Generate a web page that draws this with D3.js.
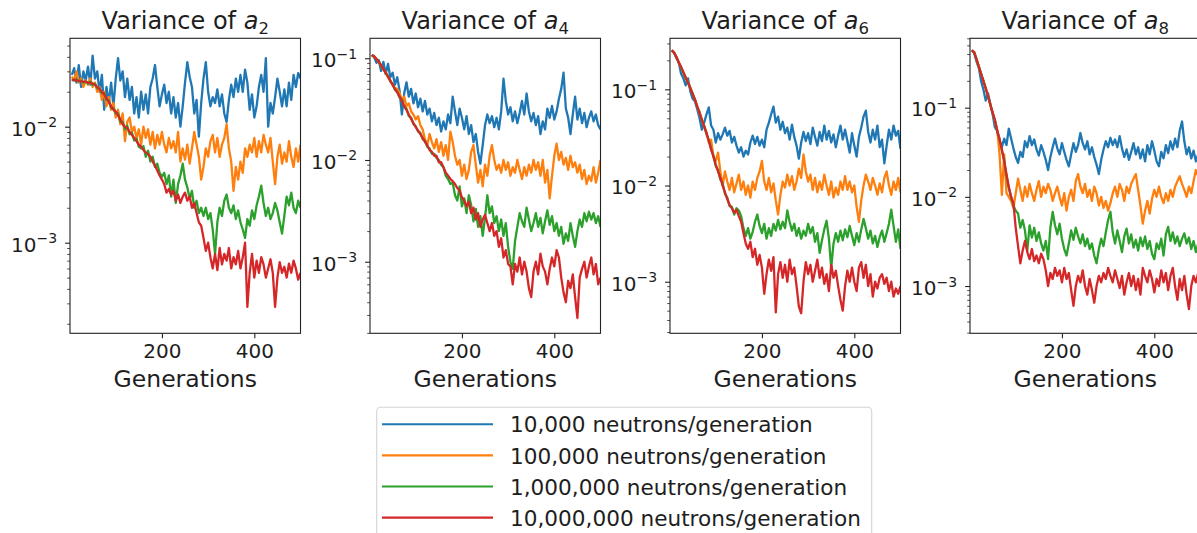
<!DOCTYPE html>
<html>
<head>
<meta charset="utf-8">
<script src="https://cdn.jsdelivr.net/npm/d3@7/dist/d3.min.js"></script>
<style>
html,body{margin:0;padding:0;background:#fff;}
svg{display:block;font-family:"DejaVu Sans",sans-serif;}
</style>
</head>
<body>
<svg id="chart" width="1197" height="533"></svg>
<script>
// ---------- data ----------
const generations = d3.range(5, 501, 5); // 5,10,...,500
const seriesNames = ["10,000 neutrons/generation", "100,000 neutrons/generation", "1,000,000 neutrons/generation", "10,000,000 neutrons/generation"];
const seriesColors = ["#1f77b4", "#ff7f0e", "#2ca02c", "#d62728"];
const coefficients = ["2", "4", "6", "8"];
const xTicks = [200, 400];
const xLimits = [1, 500];
const yLimits = [[1.656e-4, 0.0578], [1.98e-4, 0.157], [2.91e-4, 0.339], [2.95e-4, 0.600]];

// Variance of a2
const a2_n1e4 = [2.8e-2,3.2e-2,2.4e-2,3.4e-2,2.2e-2,3.0e-2,2.5e-2,3.3e-2,2.3e-2,4.1e-2,2.6e-2,3.0e-2,2.0e-2,2.8e-2,1.4e-2,2.2e-2,1.6e-2,2.4e-2,1.5e-2,2.6e-2,
 3.9e-2,2.5e-2,3.0e-2,1.8e-2,2.6e-2,1.7e-2,2.2e-2,1.3e-2,1.8e-2,1.2e-2,2.0e-2,1.4e-2,1.9e-2,1.3e-2,2.2e-2,2.6e-2,3.4e-2,2.2e-2,1.5e-2,1.9e-2,
 2.3e-2,1.6e-2,2.0e-2,1.3e-2,1.8e-2,1.2e-2,1.6e-2,1.0e-2,1.5e-2,2.4e-2,3.6e-2,2.7e-2,2.2e-2,1.3e-2,1.7e-2,0.82e-2,1.6e-2,2.6e-2,3.6e-2,2.0e-2,
 1.5e-2,1.8e-2,1.6e-2,2.1e-2,1.5e-2,1.9e-2,1.3e-2,1.1e-2,1.7e-2,2.3e-2,1.8e-2,2.6e-2,2.0e-2,2.8e-2,2.0e-2,3.1e-2,2.4e-2,1.4e-2,1.9e-2,1.2e-2,
 1.5e-2,2.2e-2,2.8e-2,2.0e-2,3.9e-2,1.0e-2,1.6e-2,1.3e-2,1.8e-2,2.6e-2,2.0e-2,1.5e-2,2.1e-2,1.5e-2,2.4e-2,1.7e-2,2.8e-2,2.2e-2,2.9e-2,2.6e-2];
const a2_n1e5 = [27e-3,25e-3,30e-3,24e-3,26e-3,22e-3,25e-3,23e-3,26e-3,22e-3,24e-3,20e-3,22e-3,17e-3,20e-3,15e-3,18e-3,14e-3,16e-3,12e-3,
 14e-3,10.5e-3,13e-3,7.5e-3,11e-3,12e-3,9e-3,10e-3,8e-3,9.5e-3,7e-3,10e-3,8e-3,9.5e-3,7e-3,9e-3,6.5e-3,8.5e-3,7e-3,9e-3,
 7e-3,6e-3,8e-3,6.5e-3,7.5e-3,6e-3,9e-3,5e-3,6.5e-3,5.2e-3,7e-3,4.8e-3,6.5e-3,9e-3,7e-3,5.5e-3,3.5e-3,4.5e-3,6.5e-3,5.5e-3,
 7.5e-3,8.5e-3,6e-3,8e-3,5.5e-3,7e-3,8e-3,10.5e-3,6.5e-3,5e-3,2.8e-3,4.5e-3,3.5e-3,5e-3,4e-3,6.5e-3,5.5e-3,7e-3,6e-3,8e-3,
 5.5e-3,7.5e-3,6e-3,8.5e-3,7e-3,6e-3,8e-3,5e-3,3.2e-3,5.5e-3,7e-3,4.8e-3,6e-3,5e-3,7.5e-3,5.5e-3,4.5e-3,6.5e-3,5e-3,7e-3];
const a2_n1e6 = [25.5e-3,25e-3,25.5e-3,24.5e-3,25e-3,24e-3,24.5e-3,23.5e-3,24.5e-3,23e-3,23.5e-3,21.5e-3,21.5e-3,19.5e-3,19.5e-3,17e-3,17e-3,14.5e-3,14.5e-3,13e-3,
 13e-3,11e-3,11e-3,9.5e-3,10.2e-3,8.6e-3,8.9e-3,7.6e-3,7.9e-3,6.7e-3,6.5e-3,6.8e-3,5.5e-3,6.2e-3,5.0e-3,5.5e-3,4.5e-3,4.8e-3,4.0e-3,3.7e-3,
 4.0e-3,3.2e-3,3.8e-3,2.5e-3,3.5e-3,2.2e-3,3.2e-3,3.8e-3,4.8e-3,3.5e-3,3.0e-3,2.4e-3,2.8e-3,2.0e-3,2.3e-3,1.8e-3,2.0e-3,1.7e-3,2.0e-3,1.6e-3,
 1.8e-3,1.3e-3,0.8e-3,1.5e-3,2.0e-3,1.7e-3,2.3e-3,2.6e-3,2.0e-3,1.8e-3,2.1e-3,1.6e-3,1.9e-3,1.5e-3,1.3e-3,1.1e-3,1.6e-3,1.4e-3,1.9e-3,1.6e-3,
 2.1e-3,2.5e-3,3.1e-3,2.2e-3,1.7e-3,2.0e-3,1.6e-3,1.8e-3,2.2e-3,1.9e-3,1.5e-3,1.2e-3,1.7e-3,2.5e-3,2.1e-3,2.7e-3,2.0e-3,1.8e-3,2.3e-3,2.0e-3];
const a2_n1e7 = [25e-3,25.5e-3,25e-3,25e-3,24.5e-3,24.5e-3,24.5e-3,24e-3,24e-3,23.5e-3,23e-3,22e-3,21e-3,20e-3,19e-3,17.5e-3,16.5e-3,15e-3,14e-3,13.5e-3,
 12.5e-3,11.5e-3,10.5e-3,10e-3,9.8e-3,9e-3,8.5e-3,8e-3,7.5e-3,7e-3,6.7e-3,6.3e-3,6e-3,5.8e-3,5.5e-3,5e-3,4.6e-3,4.2e-3,3.8e-3,3.5e-3,
 3.2e-3,2.7e-3,2.9e-3,2.6e-3,2.8e-3,2.3e-3,2.6e-3,2.2e-3,2.5e-3,2.7e-3,2.3e-3,2.5e-3,2.0e-3,2.2e-3,1.8e-3,1.5e-3,1.4e-3,1.1e-3,0.85e-3,1.0e-3,
 0.75e-3,0.6e-3,0.8e-3,0.58e-3,0.9e-3,0.65e-3,0.8e-3,0.7e-3,0.9e-3,0.6e-3,0.75e-3,0.65e-3,0.85e-3,0.6e-3,0.75e-3,1.0e-3,0.28e-3,0.55e-3,0.8e-3,0.5e-3,
 0.7e-3,0.55e-3,0.75e-3,0.65e-3,0.5e-3,0.6e-3,0.72e-3,0.55e-3,0.28e-3,0.5e-3,0.68e-3,0.55e-3,0.62e-3,0.5e-3,0.66e-3,0.55e-3,0.7e-3,0.6e-3,0.48e-3,0.55e-3];

// Variance of a4
const a4_n1e4 = [10.8e-2,10.2e-2,9.0e-2,9.6e-2,7.5e-2,9.2e-2,7.0e-2,8.8e-2,6.5e-2,7.2e-2,5.5e-2,6.5e-2,4.8e-2,2.8e-2,4.5e-2,5.8e-2,4.2e-2,5.0e-2,3.6e-2,4.5e-2,
 3.3e-2,4.0e-2,3.0e-2,3.8e-2,2.8e-2,3.2e-2,2.4e-2,2.9e-2,2.2e-2,2.6e-2,1.9e-2,2.4e-2,2.0e-2,2.8e-2,2.3e-2,4.2e-2,3.0e-2,2.2e-2,3.2e-2,2.6e-2,
 2.0e-2,2.7e-2,1.8e-2,2.2e-2,1.5e-2,1.8e-2,1.2e-2,0.92e-2,1.4e-2,2.2e-2,2.8e-2,2.3e-2,2.7e-2,2.1e-2,2.6e-2,2.0e-2,3.0e-2,6.3e-2,3.8e-2,2.8e-2,
 3.3e-2,2.4e-2,3.0e-2,2.3e-2,2.9e-2,3.8e-2,2.8e-2,4.5e-2,3.0e-2,2.4e-2,2.9e-2,2.2e-2,2.7e-2,1.8e-2,2.4e-2,2.0e-2,3.2e-2,2.6e-2,3.4e-2,2.5e-2,
 3.0e-2,4.0e-2,5.0e-2,7.2e-2,3.2e-2,2.6e-2,1.8e-2,2.8e-2,4.2e-2,2.5e-2,3.2e-2,2.3e-2,2.9e-2,2.1e-2,2.6e-2,3.0e-2,2.4e-2,2.8e-2,2.2e-2,2.0e-2];
const a4_n1e5 = [106e-3,103e-3,99e-3,91e-3,86e-3,77e-3,73e-3,65e-3,61e-3,54e-3,51e-3,50e-3,46e-3,38e-3,42e-3,34e-3,36e-3,30e-3,28e-3,25e-3,
 27e-3,22e-3,20e-3,16e-3,14e-3,18e-3,15e-3,13e-3,16e-3,12e-3,15e-3,11e-3,14e-3,10e-3,19e-3,15e-3,11e-3,9e-3,10e-3,7e-3,
 9e-3,6.5e-3,8e-3,12e-3,14e-3,9e-3,6e-3,8e-3,5.5e-3,9e-3,7e-3,11e-3,14e-3,10e-3,8e-3,9e-3,7.5e-3,10e-3,8e-3,9.5e-3,
 7e-3,8.5e-3,7.5e-3,10e-3,8e-3,6.5e-3,8.5e-3,7e-3,9e-3,7.5e-3,10e-3,8e-3,9.5e-3,7e-3,10e-3,6e-3,8e-3,4.2e-3,7e-3,11e-3,
 14.5e-3,10e-3,12e-3,9e-3,10.5e-3,8e-3,11e-3,8.5e-3,9.5e-3,7.5e-3,9e-3,6.5e-3,8e-3,5.8e-3,7e-3,6.2e-3,8.5e-3,6e-3,7.5e-3,10e-3];
const a4_n1e6 = [107e-3,105e-3,97e-3,93e-3,84e-3,79e-3,71e-3,67e-3,59e-3,56e-3,49e-3,47e-3,41e-3,39e-3,33e-3,32e-3,27e-3,26e-3,22.5e-3,21.5e-3,
 19e-3,18.5e-3,16e-3,15.5e-3,13.5e-3,13e-3,11.5e-3,11.5e-3,10.5e-3,10e-3,9e-3,8.5e-3,7.0e-3,6.5e-3,5.8e-3,6.0e-3,4.5e-3,4.0e-3,5.5e-3,3.5e-3,
 4.2e-3,3.0e-3,4.5e-3,3.6e-3,2.5e-3,3.3e-3,2.2e-3,2.8e-3,1.8e-3,2.7e-3,4.5e-3,3.0e-3,3.5e-3,2.4e-3,2.8e-3,2.0e-3,2.6e-3,1.8e-3,2.4e-3,1.4e-3,
 1.0e-3,0.85e-3,1.6e-3,2.2e-3,3.0e-3,2.5e-3,2.2e-3,3.4e-3,2.6e-3,2.0e-3,2.4e-3,3.0e-3,2.2e-3,2.7e-3,1.9e-3,2.5e-3,3.2e-3,2.3e-3,2.8e-3,2.0e-3,
 2.4e-3,1.8e-3,2.2e-3,1.5e-3,1.9e-3,1.6e-3,2.4e-3,1.8e-3,1.4e-3,2.0e-3,2.6e-3,2.2e-3,3.0e-3,2.5e-3,3.1e-3,2.6e-3,3.0e-3,2.4e-3,2.8e-3,2.2e-3];
const a4_n1e7 = [108e-3,104e-3,98e-3,92e-3,85e-3,78e-3,72e-3,66e-3,60e-3,55e-3,50e-3,46e-3,42e-3,38e-3,34e-3,31e-3,28e-3,25.5e-3,23e-3,21e-3,
 19.5e-3,18e-3,16.5e-3,15e-3,14e-3,12.5e-3,12e-3,11e-3,11e-3,9.5e-3,9.5e-3,8.5e-3,7.5e-3,7e-3,6.5e-3,6.2e-3,5.8e-3,5.3e-3,5.0e-3,4.3e-3,
 4.0e-3,3.5e-3,3.9e-3,3.0e-3,3.4e-3,2.6e-3,3.0e-3,2.2e-3,2.6e-3,2.9e-3,2.4e-3,2.0e-3,2.4e-3,1.8e-3,2.0e-3,1.4e-3,1.7e-3,1.1e-3,1.3e-3,0.95e-3,
 0.9e-3,0.6e-3,0.95e-3,0.8e-3,1.1e-3,0.75e-3,1.0e-3,0.8e-3,0.55e-3,0.45e-3,0.8e-3,1.0e-3,0.75e-3,1.2e-3,0.9e-3,0.8e-3,0.6e-3,0.85e-3,1.1e-3,0.9e-3,
 1.3e-3,1.1e-3,0.7e-3,0.5e-3,0.4e-3,0.65e-3,0.55e-3,0.75e-3,0.45e-3,0.28e-3,0.7e-3,0.85e-3,1.0e-3,0.7e-3,0.9e-3,1.1e-3,0.75e-3,0.95e-3,0.6e-3,0.7e-3];

// Variance of a6
const a6_n1e4 = [25.5e-2,24e-2,21e-2,19e-2,14.5e-2,13e-2,11e-2,13e-2,9.5e-2,8e-2,7.5e-2,6.2e-2,5.0e-2,3.8e-2,4.5e-2,5.5e-2,6.5e-2,4.2e-2,3.8e-2,2.8e-2,
 3.5e-2,3.0e-2,3.4e-2,4.0e-2,3.3e-2,3.7e-2,2.8e-2,3.2e-2,2.6e-2,2.2e-2,2.5e-2,2.0e-2,2.3e-2,2.1e-2,2.8e-2,3.3e-2,2.7e-2,3.2e-2,2.6e-2,3.0e-2,
 2.5e-2,3.8e-2,4.5e-2,5.5e-2,6.6e-2,4.5e-2,5.2e-2,3.8e-2,4.6e-2,3.5e-2,4.0e-2,3.0e-2,4.3e-2,3.2e-2,2.6e-2,1.9e-2,2.8e-2,3.6e-2,2.9e-2,3.5e-2,
 2.7e-2,4.0e-2,3.2e-2,2.6e-2,3.6e-2,2.9e-2,4.2e-2,3.0e-2,3.7e-2,2.8e-2,3.4e-2,2.5e-2,3.3e-2,4.2e-2,3.0e-2,3.8e-2,2.9e-2,2.2e-2,3.5e-2,2.6e-2,
 2.0e-2,3.2e-2,4.0e-2,5.2e-2,6.0e-2,3.6e-2,2.8e-2,3.8e-2,3.0e-2,4.2e-2,2.5e-2,3.0e-2,1.7e-2,2.6e-2,3.8e-2,3.0e-2,4.2e-2,3.3e-2,3.7e-2,2.4e-2];
const a6_n1e5 = [256e-3,239e-3,216e-3,191e-3,169e-3,151e-3,131e-3,119e-3,102e-3,91e-3,77e-3,67e-3,56e-3,49e-3,41e-3,36e-3,28e-3,30e-3,20e-3,18e-3,
 22e-3,14e-3,10e-3,14e-3,11e-3,9e-3,12e-3,8.5e-3,10.5e-3,13e-3,9e-3,11e-3,8e-3,10e-3,7.5e-3,11e-3,9e-3,12e-3,14e-3,18e-3,
 11e-3,9e-3,12e-3,8.5e-3,10.5e-3,7e-3,5e-3,8e-3,11e-3,9.5e-3,13e-3,10e-3,12.5e-3,9e-3,11e-3,15e-3,12e-3,21e-3,14e-3,11e-3,
 13e-3,9e-3,12e-3,8.5e-3,11e-3,9e-3,13e-3,10e-3,8e-3,11e-3,7.5e-3,9.5e-3,8e-3,11e-3,9e-3,12.5e-3,9e-3,11e-3,8.5e-3,10e-3,
 6e-3,4.2e-3,7e-3,10e-3,13e-3,11e-3,9e-3,12e-3,10e-3,8e-3,10.5e-3,8.5e-3,12e-3,14e-3,10e-3,8e-3,11e-3,9e-3,12e-3,8.5e-3];
const a6_n1e6 = [252e-3,238e-3,217e-3,188e-3,171e-3,148e-3,133e-3,116e-3,104e-3,89e-3,79e-3,65e-3,58e-3,47e-3,42e-3,34e-3,30e-3,23.5e-3,20.5e-3,16e-3,
 14.5e-3,11.5e-3,10.5e-3,8.2e-3,7.5e-3,6.1e-3,6.0e-3,5.0e-3,5.8e-3,5.5e-3,4.8e-3,3.6e-3,3.0e-3,3.6e-3,2.8e-3,3.3e-3,4.2e-3,5.0e-3,3.8e-3,3.2e-3,
 4.0e-3,2.8e-3,3.6e-3,3.0e-3,4.0e-3,3.4e-3,4.4e-3,3.5e-3,4.2e-3,3.6e-3,5.5e-3,4.2e-3,3.4e-3,4.0e-3,3.0e-3,3.6e-3,2.8e-3,3.4e-3,3.0e-3,4.0e-3,
 3.2e-3,3.7e-3,2.6e-3,3.2e-3,2.0e-3,2.7e-3,3.5e-3,4.3e-3,2.8e-3,1.4e-3,2.5e-3,3.2e-3,2.6e-3,3.4e-3,2.7e-3,3.5e-3,2.9e-3,3.8e-3,3.0e-3,2.4e-3,
 3.2e-3,2.6e-3,3.5e-3,4.5e-3,3.6e-3,2.8e-3,3.4e-3,2.5e-3,3.0e-3,2.3e-3,2.9e-3,3.4e-3,2.6e-3,3.2e-3,4.0e-3,5.6e-3,3.8e-3,2.6e-3,3.5e-3,2.2e-3];
const a6_n1e7 = [255e-3,240e-3,215e-3,190e-3,170e-3,150e-3,132e-3,118e-3,103e-3,90e-3,78e-3,66e-3,57e-3,48e-3,41e-3,35e-3,29e-3,24e-3,20e-3,16.5e-3,
 14e-3,12e-3,10e-3,8.5e-3,7.2e-3,6.3e-3,5.8e-3,5.2e-3,5.6e-3,4.8e-3,4.2e-3,3.2e-3,2.5e-3,2.2e-3,2.6e-3,1.8e-3,2.2e-3,1.5e-3,1.9e-3,1.4e-3,
 0.75e-3,1.2e-3,1.7e-3,1.3e-3,1.8e-3,0.48e-3,1.2e-3,1.6e-3,1.1e-3,1.5e-3,1.0e-3,1.7e-3,1.2e-3,1.4e-3,0.9e-3,0.55e-3,0.47e-3,1.0e-3,1.6e-3,1.2e-3,
 1.5e-3,1.0e-3,1.3e-3,1.7e-3,1.1e-3,1.4e-3,0.95e-3,1.2e-3,0.8e-3,1.5e-3,1.1e-3,1.3e-3,0.9e-3,0.65e-3,0.5e-3,0.9e-3,1.3e-3,1.0e-3,1.4e-3,1.0e-3,
 0.8e-3,1.4e-3,1.6e-3,1.1e-3,1.5e-3,0.9e-3,1.2e-3,0.7e-3,1.0e-3,0.85e-3,1.1e-3,1.2e-3,0.95e-3,1.1e-3,0.8e-3,1.0e-3,0.7e-3,0.85e-3,0.75e-3,0.9e-3];

// Variance of a8
const a8_n1e4 = [44e-2,41e-2,33e-2,28e-2,20e-2,16e-2,12e-2,14.5e-2,11e-2,8.5e-2,6e-2,5.5e-2,4.2e-2,3.6e-2,4.5e-2,3.8e-2,5.8e-2,4.5e-2,3.5e-2,2.8e-2,
 2.4e-2,3.2e-2,2.8e-2,4.2e-2,3.6e-2,4.8e-2,3.8e-2,4.4e-2,3.4e-2,2.9e-2,3.8e-2,3.2e-2,2.6e-2,2.0e-2,2.8e-2,3.6e-2,4.5e-2,3.5e-2,3.0e-2,4.0e-2,
 3.2e-2,2.6e-2,2.2e-2,3.0e-2,4.0e-2,3.2e-2,3.8e-2,5.2e-2,4.0e-2,3.4e-2,4.2e-2,3.0e-2,3.6e-2,2.8e-2,2.3e-2,1.8e-2,2.6e-2,3.4e-2,4.2e-2,3.6e-2,
 4.6e-2,3.8e-2,4.4e-2,3.6e-2,4.8e-2,3.5e-2,2.8e-2,3.4e-2,2.6e-2,3.2e-2,4.0e-2,3.0e-2,3.6e-2,2.7e-2,3.4e-2,2.5e-2,3.8e-2,3.0e-2,4.2e-2,3.3e-2,
 2.5e-2,2.2e-2,3.2e-2,2.7e-2,3.8e-2,3.1e-2,4.2e-2,3.4e-2,4.5e-2,3.6e-2,5.5e-2,7.0e-2,4.2e-2,3.0e-2,3.6e-2,2.7e-2,3.3e-2,2.5e-2,3.0e-2,2.8e-2];
const a8_n1e5 = [442e-3,419e-3,349e-3,291e-3,238e-3,202e-3,163e-3,136e-3,107e-3,89e-3,71e-3,56e-3,30e-3,10.5e-3,30e-3,11e-3,10e-3,9e-3,7.5e-3,11e-3,
 16e-3,12e-3,9e-3,13e-3,10e-3,14e-3,11e-3,9e-3,12e-3,15e-3,10e-3,13e-3,11e-3,14e-3,12e-3,9e-3,11e-3,13e-3,10e-3,8e-3,
 11e-3,7e-3,10e-3,12e-3,9e-3,15e-3,18e-3,13e-3,11e-3,14e-3,10e-3,12e-3,9e-3,13e-3,11e-3,8e-3,10e-3,7.5e-3,9e-3,7e-3,
 8.5e-3,11e-3,13e-3,10e-3,14e-3,12e-3,9e-3,13e-3,11e-3,14e-3,16e-3,18e-3,12e-3,8e-3,5e-3,7e-3,9e-3,6.5e-3,9.5e-3,12e-3,
 10e-3,13e-3,10e-3,8.5e-3,11e-3,9e-3,12e-3,10e-3,13e-3,15e-3,17e-3,14e-3,12e-3,10e-3,13e-3,11e-3,15e-3,20e-3,17e-3,14e-3];
const a8_n1e6 = [438e-3,418e-3,352e-3,288e-3,242e-3,198e-3,167e-3,133e-3,110e-3,86e-3,73e-3,54e-3,45e-3,33e-3,26e-3,17e-3,12.5e-3,10e-3,8e-3,7e-3,
 6.5e-3,4.5e-3,5.5e-3,4.2e-3,2.5e-3,4.8e-3,3.5e-3,4.5e-3,3.2e-3,4.0e-3,3.0e-3,2.5e-3,3.2e-3,2.0e-3,4.5e-3,6.8e-3,4.8e-3,3.8e-3,5.0e-3,3.4e-3,
 2.6e-3,2.2e-3,3.0e-3,4.2e-3,3.3e-3,4.5e-3,3.6e-3,3.0e-3,3.8e-3,2.8e-3,3.4e-3,2.6e-3,3.0e-3,2.2e-3,1.8e-3,2.6e-3,3.4e-3,2.8e-3,4.0e-3,5.5e-3,
 6.8e-3,4.0e-3,3.0e-3,4.2e-3,3.2e-3,2.4e-3,3.6e-3,4.4e-3,3.0e-3,3.8e-3,2.7e-3,3.3e-3,2.5e-3,3.5e-3,2.8e-3,3.6e-3,2.6e-3,3.2e-3,2.3e-3,2.0e-3,
 3.0e-3,2.6e-3,3.4e-3,2.2e-3,3.8e-3,4.6e-3,3.2e-3,4.0e-3,3.0e-3,3.6e-3,2.8e-3,3.4e-3,3.9e-3,3.0e-3,3.5e-3,2.6e-3,3.2e-3,2.4e-3,3.0e-3,3.3e-3];
const a8_n1e7 = [440e-3,420e-3,350e-3,290e-3,240e-3,200e-3,165e-3,135e-3,108e-3,88e-3,72e-3,55e-3,44e-3,34e-3,25e-3,18e-3,13e-3,10e-3,8.5e-3,4.5e-3,
 2.8e-3,1.8e-3,2.5e-3,3.2e-3,2.4e-3,2.0e-3,2.6e-3,1.9e-3,2.2e-3,1.8e-3,2.3e-3,2.0e-3,1.5e-3,1.0e-3,1.4e-3,1.2e-3,1.6e-3,1.3e-3,1.5e-3,1.1e-3,
 1.6e-3,1.2e-3,1.4e-3,0.9e-3,0.6e-3,1.0e-3,1.3e-3,1.1e-3,1.5e-3,1.0e-3,0.8e-3,1.2e-3,0.9e-3,0.65e-3,1.0e-3,1.3e-3,1.1e-3,1.4e-3,1.2e-3,1.6e-3,
 1.3e-3,1.1e-3,1.5e-3,1.2e-3,0.95e-3,1.3e-3,0.8e-3,1.1e-3,1.4e-3,1.0e-3,1.3e-3,0.9e-3,1.2e-3,0.8e-3,1.6e-3,1.3e-3,1.1e-3,1.5e-3,1.2e-3,0.85e-3,
 1.2e-3,1.0e-3,1.5e-3,1.1e-3,1.4e-3,0.9e-3,1.3e-3,1.6e-3,1.0e-3,0.7e-3,1.2e-3,0.9e-3,1.3e-3,0.8e-3,0.55e-3,1.0e-3,1.3e-3,1.1e-3,1.4e-3,1.2e-3];

// ---------- layout ----------
const panels = [
  {coef: coefficients[0], series: [a2_n1e4, a2_n1e5, a2_n1e6, a2_n1e7], ylim: yLimits[0]},
  {coef: coefficients[1], series: [a4_n1e4, a4_n1e5, a4_n1e6, a4_n1e7], ylim: yLimits[1]},
  {coef: coefficients[2], series: [a6_n1e4, a6_n1e5, a6_n1e6, a6_n1e7], ylim: yLimits[2]},
  {coef: coefficients[3], series: [a8_n1e4, a8_n1e5, a8_n1e6, a8_n1e7], ylim: yLimits[3]}
];
const panelLeft = [70, 370, 670, 970];
const panelW = 230.5, plotTop = 38.3, plotBottom = 333.3;
const textColor = "#1e1e1e";
const font = "DejaVu Sans";

const svg = d3.select("#chart");
svg.append("rect").attr("width", 1197).attr("height", 533).attr("fill", "#fff");

panels.forEach((p, i) => {
  const g = svg.append("g").attr("transform", `translate(${panelLeft[i]},0)`);
  const x = d3.scaleLinear().domain(xLimits).range([0, panelW]);
  const y = d3.scaleLog().domain(p.ylim).range([plotBottom, plotTop]);

  const clipId = "clip" + i;
  g.append("clipPath").attr("id", clipId).append("rect")
    .attr("x", 0).attr("y", plotTop).attr("width", panelW).attr("height", plotBottom - plotTop);

  const line = d3.line()
    .defined(d => d != null && d > 0)
    .x((d, j) => x(generations[j]))
    .y(d => y(d));

  const lg = g.append("g").attr("clip-path", `url(#${clipId})`);
  p.series.forEach((s, k) => {
    lg.append("path").datum(s)
      .attr("d", line)
      .attr("fill", "none")
      .attr("stroke", seriesColors[k])
      .attr("stroke-width", 2.3)
      .attr("stroke-linejoin", "round");
  });

  // y axis: major & minor ticks
  const allTicks = y.ticks();
  const isMajor = v => Math.abs(Math.log10(v) - Math.round(Math.log10(v))) < 1e-9;
  const majors = allTicks.filter(isMajor);
  const minors = allTicks.filter(v => !isMajor(v));

  const yMinor = g.append("g").call(d3.axisLeft(y).tickValues(minors).tickSize(2.8).tickFormat(() => ""));
  yMinor.select(".domain").remove();
  yMinor.selectAll("line").attr("stroke", "#222").attr("stroke-width", 0.8);

  const yMajor = g.append("g").call(d3.axisLeft(y).tickValues(majors).tickSize(4.9).tickPadding(8).tickFormat(() => ""));
  yMajor.select(".domain").remove();
  yMajor.selectAll("line").attr("stroke", "#222").attr("stroke-width", 1.1);
  yMajor.selectAll("text").each(function(d) {
    const t = d3.select(this);
    t.attr("dy", 8.3).attr("font-family", font).attr("font-size", 20).attr("fill", textColor);
    t.append("tspan").text("10");
    t.append("tspan").attr("dy", -8.3).attr("font-size", 14).text("\u2212" + Math.abs(Math.round(Math.log10(d))));
  });

  // x axis
  const xa = g.append("g").attr("transform", `translate(0,${plotBottom})`)
    .call(d3.axisBottom(x).tickValues(xTicks).tickSize(4.9).tickPadding(5.6).tickFormat(d3.format("d")));
  xa.select(".domain").remove();
  xa.selectAll("line").attr("stroke", "#222").attr("stroke-width", 1.1);
  xa.selectAll("text").attr("font-family", font).attr("font-size", 20).attr("fill", textColor);

  // frame
  g.append("rect").attr("x", 0).attr("y", plotTop).attr("width", panelW).attr("height", plotBottom - plotTop)
    .attr("fill", "none").attr("stroke", "#222").attr("stroke-width", 1.1);

  // title
  const title = g.append("text").attr("x", panelW / 2).attr("y", 29)
    .attr("text-anchor", "middle").attr("font-family", font).attr("font-size", 24).attr("fill", textColor);
  title.append("tspan").text("Variance of ");
  title.append("tspan").attr("font-style", "italic").text("a");
  title.append("tspan").attr("font-size", 16.5).attr("dy", 5).text(p.coef);

  // x label
  g.append("text").attr("x", panelW / 2).attr("y", 386.7)
    .attr("text-anchor", "middle").attr("font-family", font).attr("font-size", 23.5).attr("fill", textColor)
    .text("Generations");
});

// ---------- legend ----------
const legend = svg.append("g");
legend.append("rect").attr("x", 376.7).attr("y", 407.3).attr("width", 495).attr("height", 150)
  .attr("rx", 4).attr("fill", "#fff").attr("stroke", "#d4d4d4").attr("stroke-width", 1.1);
seriesNames.forEach((name, k) => {
  const ly = 424.3 + k * 31.1;
  legend.append("line").attr("x1", 382).attr("x2", 493).attr("y1", ly).attr("y2", ly)
    .attr("stroke", seriesColors[k]).attr("stroke-width", 2.1);
  legend.append("text").attr("x", 510).attr("y", ly + 8.1)
    .attr("font-family", font).attr("font-size", 21.6).attr("fill", textColor).text(name);
});
</script>
</body>
</html>
